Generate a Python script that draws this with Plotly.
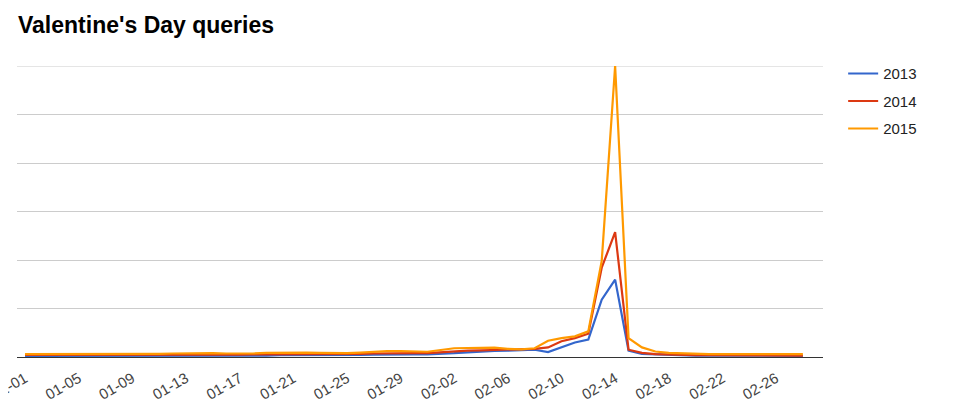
import plotly.graph_objects as go

days = [
    "01-01", "01-02", "01-03", "01-04", "01-05", "01-06", "01-07", "01-08", "01-09", "01-10",
    "01-11", "01-12", "01-13", "01-14", "01-15", "01-16", "01-17", "01-18", "01-19", "01-20",
    "01-21", "01-22", "01-23", "01-24", "01-25", "01-26", "01-27", "01-28", "01-29", "01-30",
    "01-31", "02-01", "02-02", "02-03", "02-04", "02-05", "02-06", "02-07", "02-08", "02-09",
    "02-10", "02-11", "02-12", "02-13", "02-14", "02-15", "02-16", "02-17", "02-18", "02-19",
    "02-20", "02-21", "02-22", "02-23", "02-24", "02-25", "02-26", "02-27", "02-28",
]
tick_labels = ["01-01", "01-05", "01-09", "01-13", "01-17", "01-21", "01-25", "01-29",
               "02-02", "02-06", "02-10", "02-14", "02-18", "02-22", "02-26"]

q2013 = [0.4, 0.4, 0.4, 0.3, 0.3, 0.3, 0.4, 0.4, 0.4, 0.3,
         0.3, 0.4, 0.4, 0.5, 0.5, 0.4, 0.4, 0.5, 0.5, 0.6,
         0.6, 0.6, 0.5, 0.6, 0.6, 0.7, 0.8, 0.9, 0.9, 0.9,
         0.9, 1.0, 1.3, 1.6, 1.9, 2.1, 2.2, 2.4, 2.5, 1.7,
         3.3, 5.0, 6.0, 19.7, 26.6, 2.2, 1.1, 0.9, 0.7, 0.6,
         0.5, 0.5, 0.5, 0.5, 0.4, 0.4, 0.4, 0.4, 0.4]
q2014 = [0.7, 0.7, 0.6, 0.6, 0.6, 0.6, 0.7, 0.7, 0.6, 0.6,
         0.7, 0.7, 0.8, 0.8, 0.8, 0.8, 0.8, 0.9, 0.9, 1.0,
         1.0, 1.0, 1.0, 0.9, 1.0, 1.1, 1.2, 1.3, 1.3, 1.3,
         1.3, 1.6, 2.0, 2.2, 2.3, 2.4, 2.5, 2.5, 2.8, 3.3,
         5.4, 6.5, 8.0, 30.7, 42.9, 2.5, 1.4, 1.0, 0.8, 0.7,
         0.6, 0.6, 0.6, 0.6, 0.6, 0.6, 0.5, 0.5, 0.5]
q2015 = [1.0, 1.0, 1.0, 0.9, 0.9, 1.0, 1.1, 1.1, 1.0, 1.0,
         1.1, 1.2, 1.3, 1.3, 1.3, 1.2, 1.1, 1.2, 1.4, 1.5,
         1.5, 1.5, 1.4, 1.3, 1.3, 1.5, 1.8, 2.0, 2.0, 1.9,
         1.8, 2.4, 3.0, 3.1, 3.2, 3.2, 2.8, 2.6, 3.0, 5.6,
         6.5, 7.1, 8.8, 33.0, 100.0, 6.5, 3.3, 1.9, 1.4, 1.2,
         1.1, 1.0, 1.0, 1.0, 1.0, 1.1, 1.0, 1.0, 1.0]

series = [("2013", q2013, "#3366cc"), ("2014", q2014, "#dc3912"), ("2015", q2015, "#ff9900")]

y_max = 100
grid_vals = [0, 100 / 6, 200 / 6, 50, 400 / 6, 500 / 6, 100]

fig = go.Figure()
for name, vals, color in series:
    fig.add_trace(go.Scatter(
        x=days, y=vals, name=name, mode="lines",
        line=dict(color=color, width=2.2),
        legendgroup=name,
    ))

# top gridline (Plotly skips a gridline lying on the plot edge)
fig.add_shape(type="line", xref="paper", yref="y", x0=0, x1=1, y0=y_max, y1=y_max,
              line=dict(color="#cccccc", width=1), layer="below")

fig.update_layout(
    width=960, height=420,
    paper_bgcolor="white", plot_bgcolor="white",
    margin=dict(l=9, r=145, t=58, b=71, autoexpand=False),
    font=dict(family="Liberation Sans, Arial, sans-serif", color="#444444"),
    title=dict(
        text="<b>Valentine's Day queries</b>",
        x=10 / 960, xanchor="left", y=1 - 17 / 420, yanchor="middle",
        font=dict(size=23, color="#000000", family="Liberation Sans, Arial, sans-serif"),
    ),
    showlegend=True,
    legend=dict(
        x=1.025, xanchor="left", y=1.03, yanchor="top",
        font=dict(size=15, color="#222222"),
        tracegroupgap=5,
        bgcolor="rgba(0,0,0,0)",
    ),
    xaxis=dict(
        type="category",
        categoryorder="array", categoryarray=days,
        range=[-0.6, 59.5],
        tickmode="array", tickvals=tick_labels, ticktext=tick_labels,
        tickangle=-30,
        tickfont=dict(size=15, color="#444444"),
        showgrid=False, zeroline=False,
        showline=True, linecolor="#333333", linewidth=1,
        ticks="outside", ticklen=6, tickcolor="rgba(0,0,0,0)", automargin=False,
    ),
    yaxis=dict(
        range=[0, y_max],
        tickmode="array", tickvals=grid_vals,
        showticklabels=False,
        showgrid=True, gridcolor="#cccccc", gridwidth=1,
        zeroline=False, showline=False, ticks="", automargin=False,
    ),
)

fig.write_html("out.html")
